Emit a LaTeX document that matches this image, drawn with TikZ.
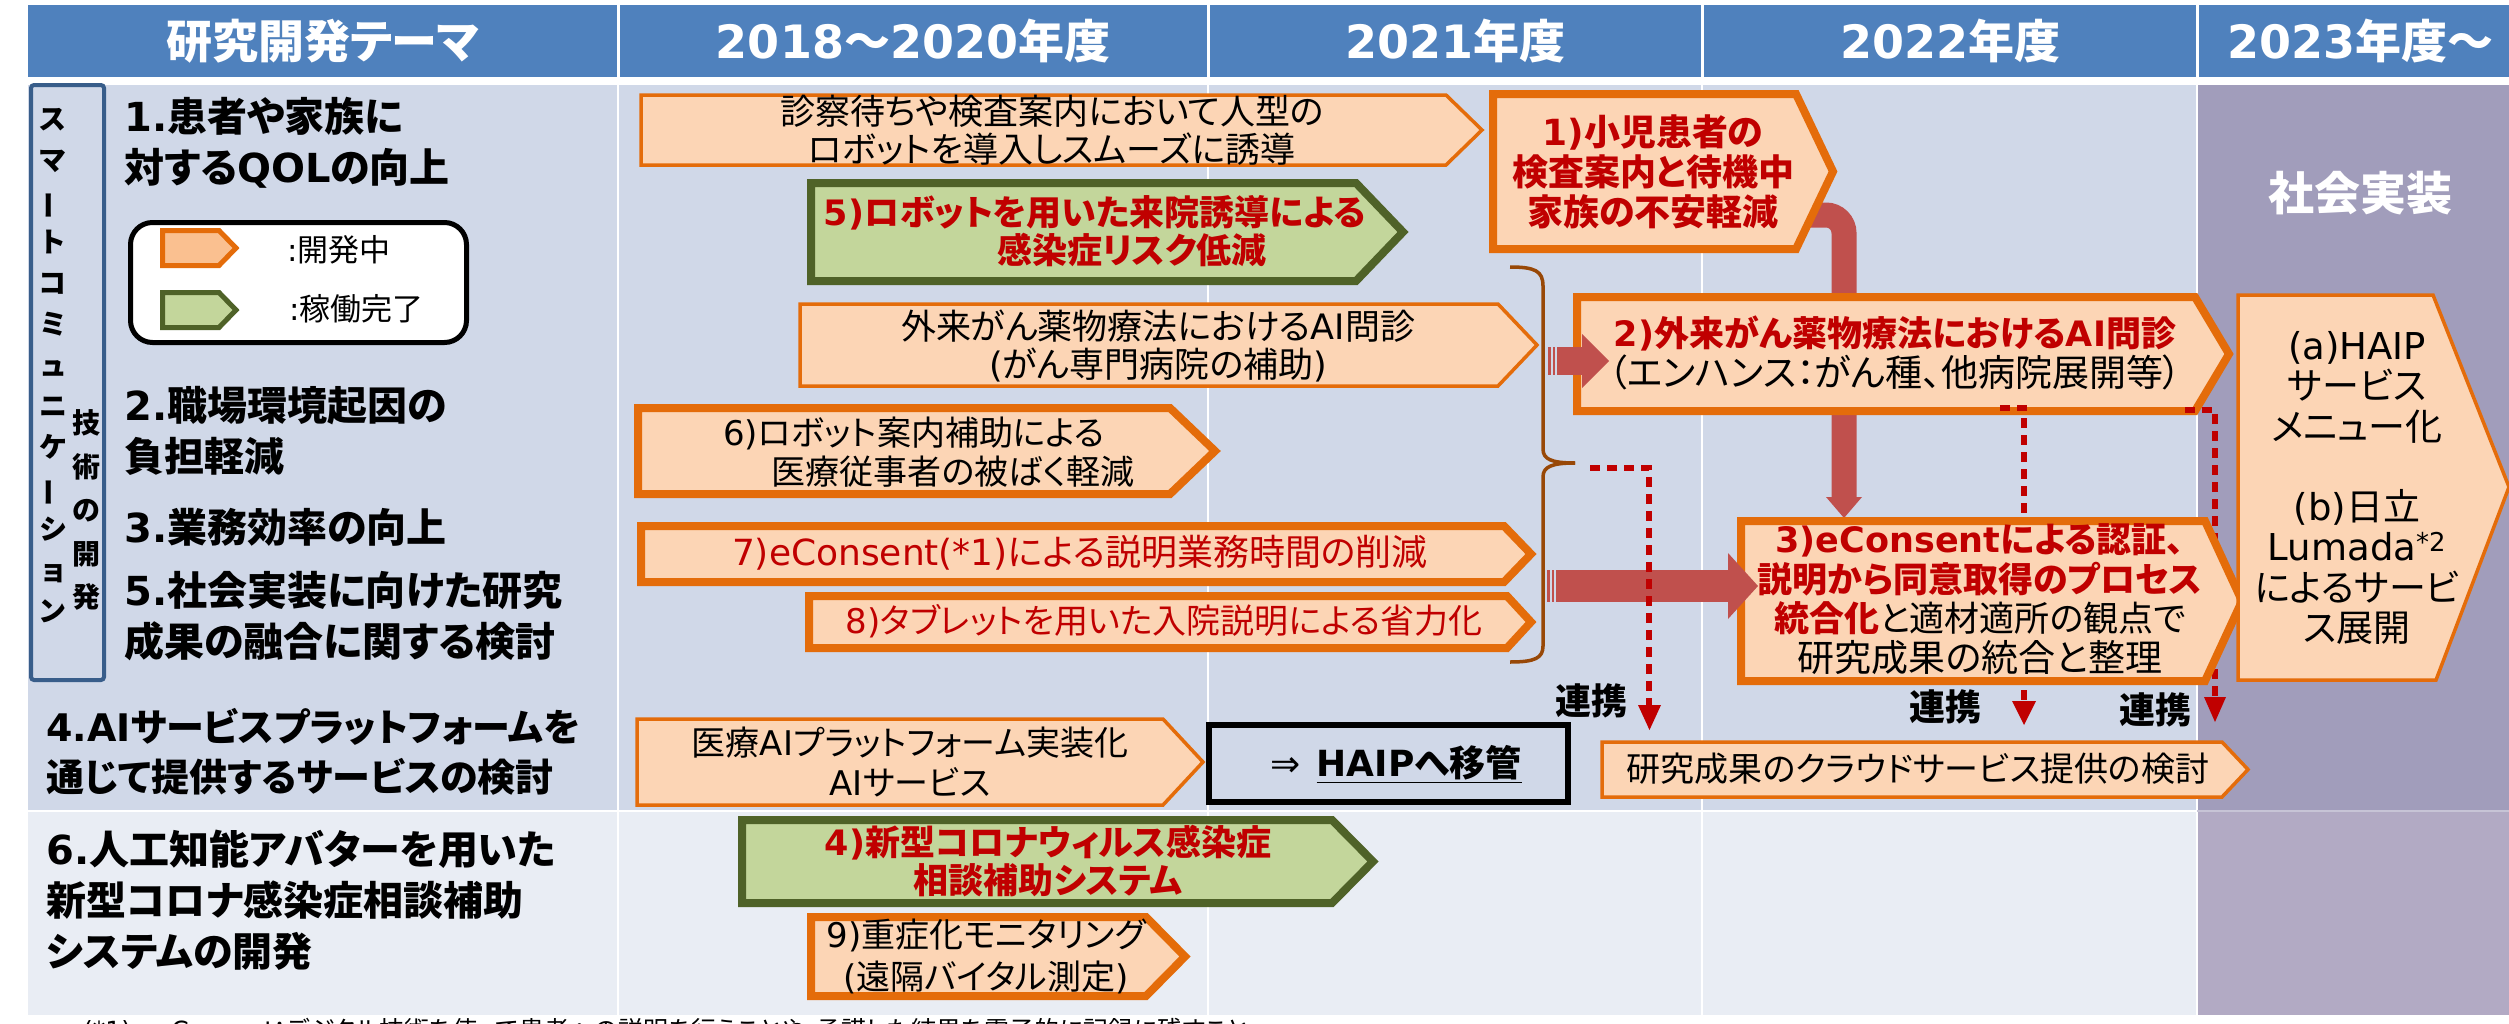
\documentclass[tikz,border=0pt]{standalone}
\usepackage{fontspec}
\usepackage{graphicx}
\setmainfont{DejaVu Sans}
\newfontfamily\latfam{DejaVu Sans}
\newfontfamily\jpfam{Noto Sans CJK JP}[RawFeature=+palt]
\XeTeXinterchartokenstate=1
\newXeTeXintercharclass\JPc
\newcount\jpcnt
\jpcnt="3000
\loop \XeTeXcharclass\jpcnt=\JPc \advance\jpcnt by 1 \ifnum\jpcnt<"A000 \repeat
\jpcnt="FF00
\loop \XeTeXcharclass\jpcnt=\JPc \advance\jpcnt by 1 \ifnum\jpcnt<"FFF0 \repeat
\XeTeXinterchartoks 0 \JPc = {\jpfam}
\XeTeXinterchartoks 4095 \JPc = {\jpfam}
\XeTeXinterchartoks \JPc 0 = {\latfam}
\XeTeXinterchartoks \JPc 4095 = {\latfam}
\definecolor{hdr}{RGB}{79,129,189}
\definecolor{bgA}{RGB}{208,216,232}
\definecolor{bgB}{RGB}{233,237,244}
\definecolor{purA}{RGB}{161,157,187}
\definecolor{purB}{RGB}{178,170,196}
\definecolor{peach}{RGB}{252,213,181}
\definecolor{peachL}{RGB}{250,192,144}
\definecolor{orng}{RGB}{228,108,10}
\definecolor{grn}{RGB}{195,214,155}
\definecolor{olivec}{RGB}{79,98,40}
\definecolor{dred}{RGB}{192,0,0}
\definecolor{fatc}{RGB}{192,80,77}
\definecolor{brn}{RGB}{152,72,7}
\definecolor{lbl}{RGB}{56,93,138}
\newcommand\pent[6]{\filldraw[#1] (#2,#3) -- (#4,#3) -- (#6,{(#3+#5)/2}) -- (#4,#5) -- (#2,#5) -- cycle;}
\newcommand\vbar{\rotatebox[origin=c]{90}{ー}}
\tikzset{
  txt/.style={inner sep=0pt, align=center},
  hdrtxt/.style={txt, text=white, font=\bfseries\fontsize{46}{50}\selectfont},
  theme/.style={inner sep=0pt, align=left, anchor=west, font=\bfseries\fontsize{40}{51}\selectfont},
  pThin/.style={fill=peach, draw=orng, line width=3.5pt},
  pThick/.style={fill=peach, draw=orng, line width=8pt},
  gThick/.style={fill=grn, draw=olivec, line width=8pt},
  dotline/.style={draw=dred, line width=6pt, dash pattern=on 10pt off 7pt},
  lab/.style={txt, font=\bfseries\fontsize{36}{40}\selectfont},
  bracec/.style={draw=brn, line width=3.5pt}
}
\begin{document}
\begin{tikzpicture}[x=1pt,y=-1pt,line join=miter]
\useasboundingbox (0,0) rectangle (2509,1023);
\fill[white] (0,0) rectangle (2509,1023);
% header
\fill[hdr] (28,5) rectangle (2509,77);
\foreach \xx in {618,1208,1702,2197} \draw[white,line width=3pt] (\xx,5) -- (\xx,77);
\node[hdrtxt] (h0) at (323,41) {研究開発テーマ};
\node[hdrtxt] (h1) at (913,41) {2018〜2020年度};
\node[hdrtxt] (h2) at (1455,41) {2021年度};
\node[hdrtxt] (h3) at (1950,41) {2022年度};
\node[hdrtxt] (h4) at (2360,41) {2023年度〜};
% body
\fill[bgA] (28,85) rectangle (2197,811);
\fill[bgB] (28,811) rectangle (2197,1015);
\fill[purA] (2197,85) rectangle (2509,811);
\fill[purB] (2197,811) rectangle (2509,1015);
\foreach \xx in {618,1208,1702,2197} \draw[white,line width=2pt] (\xx,85) -- (\xx,1015);
\draw[white,line width=2.5pt] (28,811) -- (2197,811);
\draw[white!40!purA,line width=2.5pt] (2197,811) -- (2509,811);
% left label
\draw[lbl,line width=4pt,rounded corners=3pt] (31,85) rectangle (104,680);
\node[txt,font=\bfseries\fontsize{28}{41}\selectfont] (v1) at (53,366) {ス\\マ\\\vbar\\ト\\コ\\ミ\\ュ\\ニ\\ケ\\\vbar\\シ\\ョ\\ン};
\node[txt,font=\bfseries\fontsize{28}{43.5}\selectfont] (v2) at (86,510) {技\\術\\の\\開\\発};
% legend
\draw[black,line width=5pt,rounded corners=22pt,fill=white] (130.5,222.5) rectangle (466.5,342.5);
\filldraw[fill=peachL,draw=orng,line width=5pt] (162.5,230.5) -- (219,230.5) -- (236,248) -- (219,265.5) -- (162.5,265.5) -- cycle;
\filldraw[fill=grn,draw=olivec,line width=5pt] (162.5,292.5) -- (219,292.5) -- (236,310) -- (219,327.5) -- (162.5,327.5) -- cycle;
\node[inner sep=0pt,anchor=west,font=\fontsize{31}{34}\selectfont] (lg1) at (287,250) {:開発中};
\node[inner sep=0pt,anchor=west,font=\fontsize{31}{34}\selectfont] (lg2) at (289,309) {:稼働完了};
% themes
\node[theme] (t1) at (124,143) {1.患者や家族に\\対するQOLの向上};
\node[theme] (t2) at (124,431) {2.職場環境起因の\\負担軽減};
\node[theme] (t3) at (124,527) {3.業務効率の向上};
\node[theme] (t5) at (124,616) {5.社会実装に向けた研究\\成果の融合に関する検討};
\node[theme,font=\bfseries\fontsize{38}{50}\selectfont] (t4) at (46,752) {4.AIサービスプラットフォームを\\通じて提供するサービスの検討};
\node[theme] (t6) at (46,900) {6.人工知能アバターを用いた\\新型コロナ感染症相談補助\\システムの開発};
% brace
\draw[bracec] (1510,267) .. controls (1535,267) and (1543,271) .. (1543,286) -- (1543,449) .. controls (1543,459) and (1551,463) .. (1575,463);
\draw[bracec] (1575,463) .. controls (1551,463) and (1543,467) .. (1543,477) -- (1543,646) .. controls (1543,658) and (1535,662) .. (1510,662);
% elbow arrow 1) -> 3)
\coordinate (e1a) at (1805,215);
\coordinate (e1b) at (1844,499);
\draw[fatc,line width=25pt,rounded corners=18pt] (e1a) -| (e1b);
\fill[fatc] (1826,497) -- (1862,497) -- (1844,518) -- cycle;
% boxes
\pent{pThin}{641}{95}{1446}{165}{1482}
\node[txt,font=\fontsize{35}{38}\selectfont] (bA) at (1052,130) {診察待ちや検査案内において人型の\\ロボットを導入しスムーズに誘導};
\pent{gThick}{811}{183}{1356}{281}{1403}
\node[txt,text=dred,font=\bfseries\fontsize{35}{38}\selectfont] (b5) at (1095,231) {5)ロボットを用いた来院誘導による\\\hspace*{74pt}感染症リスク低減};
\pent{pThin}{800}{304}{1498}{386}{1537}
\node[txt,font=\fontsize{35}{38}\selectfont] (bG) at (1158,346) {外来がん薬物療法におけるAI問診\\(がん専門病院の補助)};
\pent{pThick}{638}{408}{1170}{494}{1215}
\node[txt,font=\fontsize{34}{39}\selectfont] (b6) at (914,452) {6)ロボット案内補助による\\\hspace*{78pt}医療従事者の被ばく軽減};
\pent{pThick}{641}{526}{1504}{582}{1531}
\node[txt,text=dred,font=\fontsize{36}{38}\selectfont] (b7) at (1080,553) {7)eConsent(*1)による説明業務時間の削減};
\pent{pThick}{809}{596}{1507}{648}{1531}
\node[txt,text=dred,font=\fontsize{34}{38}\selectfont] (b8) at (1164,621) {8)タブレットを用いた入院説明による省力化};
\pent{pThin}{637}{719}{1163}{805}{1203}
\node[txt,font=\fontsize{34}{40}\selectfont] (bI) at (910,762) {医療AIプラットフォーム実装化\\AIサービス};
\draw[black,line width=6pt,fill=bgA] (1209,725) rectangle (1568,802);
\node[txt,font=\fontsize{36}{40}\selectfont] (bH) at (1396,764) {⇒\hspace{16pt}\underline{\textbf{HAIPへ移管}}};
\pent{gThick}{742}{820}{1332}{903}{1373}
\node[txt,text=dred,font=\bfseries\fontsize{35}{38}\selectfont] (b4) at (1048,861) {4)新型コロナウィルス感染症\\相談補助システム};
\pent{pThick}{811}{917}{1146}{996}{1185}
\node[txt,font=\fontsize{34}{42}\selectfont] (b9) at (986,956) {9)重症化モニタリング\\(遠隔バイタル測定)};
\pent{pThick}{1493}{94}{1796}{249}{1833}
\node[txt,text=dred,font=\bfseries\fontsize{36}{40}\selectfont] (b1) at (1653,172) {1)小児患者の\\検査案内と待機中\\家族の不安軽減};
\pent{pThick}{1577}{297}{2195}{411}{2229}
\node[txt,font=\fontsize{35}{40}\selectfont] (b2) at (1895,353) {\textcolor{dred}{\bfseries 2)外来がん薬物療法におけるAI問診}\\{\fontsize{37}{40}\selectfont （エンハンス：がん種、他病院展開等）}};
% dotted links from 2)
\coordinate (d2a) at (2000,408);
\coordinate (d2b) at (2024,702);
\draw[dotline] (d2a) -| (d2b);
\fill[dred] (2012,701) -- (2036,701) -- (2024,725) -- cycle;
\coordinate (d3a) at (2185,410);
\coordinate (d3b) at (2215,698);
\draw[dotline] (d3a) -| (d3b);
\fill[dred] (2204,697) -- (2226,697) -- (2215,722) -- cycle;
\pent{pThick}{1741}{521}{2205}{681}{2242}
\node[txt,font=\fontsize{35}{39.5}\selectfont] (b3) at (1980,599) {\textcolor{dred}{\bfseries 3)eConsentによる認証、}\\\textcolor{dred}{\bfseries 説明から同意取得のプロセス}\\\textcolor{dred}{\bfseries 統合化}と適材適所の観点で\\{\fontsize{37}{39.5}\selectfont 研究成果の統合と整理}};
\pent{pThin}{1602}{742}{2222}{797}{2248}
\node[txt,font=\fontsize{34}{38}\selectfont] (bC) at (1918,769) {研究成果のクラウドサービス提供の検討};
\filldraw[pThin] (2238,295) -- (2433,295) -- (2509,487) -- (2436,680) -- (2238,680) -- cycle;
\node[txt,font=\fontsize{37}{40.4}\selectfont] (bS) at (2357,488) {(a)HAIP\\サービス\\メニュー化\\[40pt](b)日立\\Lumada\textsuperscript{*2}\\によるサービ\\ス展開};
% striped arrows
\fill[fatc] (1548,347) rectangle (1550.5,375);
\fill[fatc] (1552.5,347) rectangle (1555,375);
\fill[fatc] (1557,347) rectangle (1583,375);
\fill[fatc] (1582,334) -- (1609,361) -- (1582,388) -- cycle;
\fill[fatc] (1547,570) rectangle (1549.5,602);
\fill[fatc] (1551.5,570) rectangle (1554,602);
\fill[fatc] (1556,570) rectangle (1729,602);
\fill[fatc] (1728,553) -- (1758,586) -- (1728,619) -- cycle;
% dotted link from brace
\coordinate (d1a) at (1590,468);
\coordinate (d1b) at (1649,706);
\draw[dotline] (d1a) -| (d1b);
\fill[dred] (1638,705) -- (1661,705) -- (1649.5,730) -- cycle;
% labels
\node[lab] (r1) at (1591,701) {連携};
\node[lab] (r2) at (1945,707) {連携};
\node[lab] (r3) at (2155,710) {連携};
\node[txt,text=white,font=\bfseries\fontsize{46}{50}\selectfont] (sj) at (2360,193) {社会実装};
% footnote
\node[anchor=base west,inner sep=0pt,font=\fontsize{25}{28}\selectfont] (fn) at (83,1039) {(*1)　eConsent：デジタル技術を使って患者への説明を行うことや、承諾した結果を電子的に記録に残すこと};
\end{tikzpicture}
\end{document}
